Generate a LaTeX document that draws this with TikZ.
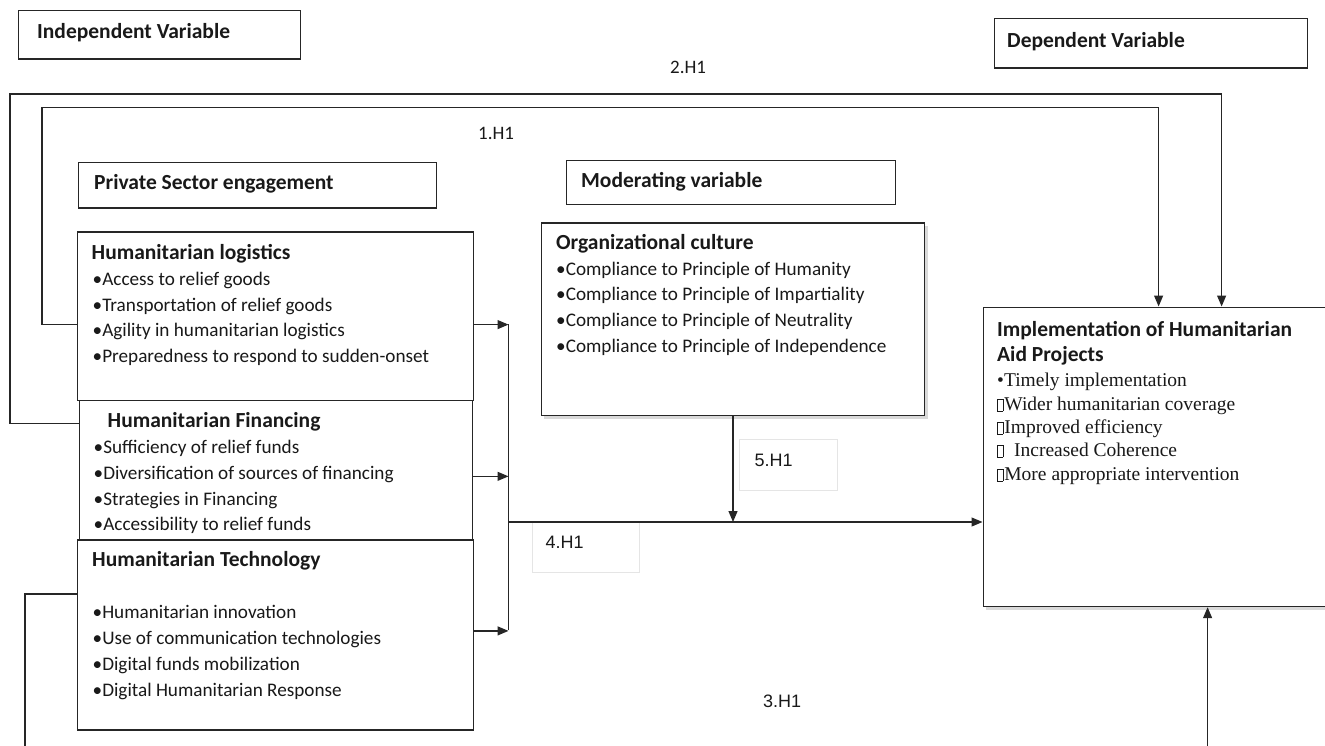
\documentclass[tikz,border=0pt]{standalone}
\usepackage{fontspec}
\setmainfont{Carlito}
\newfontfamily\serifff{Liberation Serif}
\newfontfamily\arialf{Liberation Sans}
\usetikzlibrary{arrows.meta,shadows}
\newcommand\emptyglyph{{\setlength\fboxsep{0pt}\setlength\fboxrule{0.6pt}\fbox{\rule{0pt}{11pt}\hspace{5pt}}\hspace{1pt}}}
\begin{document}
\begin{tikzpicture}[x=1pt,y=-1pt,
  box/.style={draw=black!85, line width=1.2pt, inner sep=0pt, anchor=north west, fill=white},
  ttl/.style={font=\fontsize{21.5}{25}\selectfont\bfseries, inner sep=0pt, anchor=base west, text=black!90},
  itm/.style={font=\fontsize{19.2}{25}\selectfont, inner sep=0pt, anchor=base west, text=black!90},
  sitm/.style={font=\serifff\fontsize{19.5}{24}\selectfont, inner sep=0pt, anchor=base west, text=black!90},
  lbl/.style={font=\arialf\fontsize{18}{20}\selectfont, inner sep=0pt, anchor=base west, text=black!90},
  lblc/.style={font=\fontsize{19}{20}\selectfont, inner sep=0pt, anchor=base west, text=black!90},
  faint/.style={draw=black!10, line width=0.8pt, inner sep=0pt, anchor=north west},
  conn/.style={line width=1.2pt, draw=black!85},
  arr/.style={conn, -{Triangle[length=11pt,width=9pt]}},
  shad/.style={drop shadow={shadow xshift=3pt, shadow yshift=-3pt, fill=black!15, opacity=1}}
]
\useasboundingbox (0,0) rectangle (1325,746);

% boxes
\node[box, minimum width=282pt, minimum height=48.5pt] (indep) at (17.5,10) {};
\node[box, minimum width=313pt, minimum height=49.5pt] (dep) at (994,18) {};
\node[box, minimum width=357.5pt, minimum height=45.5pt] (pse) at (78,162) {};
\node[box, minimum width=329pt, minimum height=44pt] (mod) at (566,160) {};
\node[box, minimum width=396pt, minimum height=168pt] (log) at (76.5,231.5) {};
\node[box, minimum width=393.5pt, minimum height=139.5pt] (fin) at (78.5,400) {};
\node[box, minimum width=396pt, minimum height=190pt] (tech) at (76.5,539.3) {};
\node[box, shad, minimum width=383.5pt, minimum height=192.5pt] (org) at (540.5,222.5) {};
\node[box, shad, minimum width=351pt, minimum height=299.5pt] (impl) at (982.5,306.5) {};
\node[faint, minimum width=98pt, minimum height=51pt] (l5box) at (738.5,439) {};
\node[faint, minimum width=107pt, minimum height=50pt] (l4box) at (531.5,522) {};

% titles
\node[ttl] (indepT) at (37,39) {Independent Variable};
\node[ttl] (depT) at (1007,48) {Dependent Variable};
\node[ttl] (pseT) at (94,190) {Private Sector engagement};
\node[ttl] (modT) at (581,188) {Moderating variable};
\node[ttl] (logT) at (91.5,259) {Humanitarian logistics};
\node[ttl] (finT) at (107.5,427) {Humanitarian Financing};
\node[ttl] (techT) at (92,566.5) {Humanitarian Technology};
\node[ttl] (orgT) at (556,250) {Organizational culture};
\node[ttl] (implT1) at (997,336.5) {Implementation of Humanitarian};
\node[ttl] (implT2) at (997,361.5) {Aid Projects};

% items
\node[itm] (log1) at (92.5,285) {•Access to relief goods};
\node[itm] (log2) at (92.5,311) {•Transportation of relief goods};
\node[itm] (log3) at (92.5,336.8) {•Agility in humanitarian logistics};
\node[itm] (log4) at (92.5,362.7) {•Preparedness to respond to sudden-onset};

\node[itm] (fin1) at (93.5,453.3) {•Sufficiency of relief funds};
\node[itm] (fin2) at (93.5,479) {•Diversification of sources of financing};
\node[itm] (fin3) at (93.5,505) {•Strategies in Financing};
\node[itm] (fin4) at (93.5,530.7) {•Accessibility to relief funds};

\node[itm] (tech1) at (92.5,618) {•Humanitarian innovation};
\node[itm] (tech2) at (92.5,644) {•Use of communication technologies};
\node[itm] (tech3) at (92.5,670) {•Digital funds mobilization};
\node[itm] (tech4) at (92.5,696) {•Digital Humanitarian Response};

\node[itm] (org1) at (556,275) {•Compliance to Principle of Humanity};
\node[itm] (org2) at (556,300.7) {•Compliance to Principle of Impartiality};
\node[itm] (org3) at (556,326.7) {•Compliance to Principle of Neutrality};
\node[itm] (org4) at (556,352.7) {•Compliance to Principle of Independence};

\node[sitm] (impl1) at (997,386.7) {•Timely implementation};
\node[sitm] (impl2) at (997,410.7) {\emptyglyph Wider humanitarian coverage};
\node[sitm] (impl3) at (997,433.5) {\emptyglyph Improved efficiency};
\node[sitm] (impl4) at (997,456.7) {\emptyglyph\ \ Increased Coherence};
\node[sitm] (impl5) at (997,480.7) {\emptyglyph More appropriate intervention};

% hypothesis labels
\node[lblc] (h2) at (670,73.5) {2.H1};
\node[lblc] (h1) at (478,139.5) {1.H1};
\node[lbl] (h5) at (754.5,466.7) {5.H1};
\node[lbl] (h4) at (545.5,548.3) {4.H1};
\node[lbl] (h3) at (763,707.3) {3.H1};

% junction coordinates
\coordinate (jt) at (508.5,324);
\coordinate (jb) at (508.5,630);
\coordinate (jm) at (508.5,522);
\coordinate (p1) at (42,107.5);
\coordinate (p2) at (10,94);
\coordinate (p3) at (25,780);

% connectors
\draw[conn] (jt) -- (jb);
\draw[arr] ([yshift=-8.5pt]log.east) -- ([yshift=-8.5pt]log.east -| jt);
\draw[arr] ([yshift=-6pt]fin.east) -- ([yshift=-6pt]fin.east -| jt);
\draw[arr] ([yshift=4pt]tech.east) -- ([yshift=4pt]tech.east -| jt);
\draw[arr] (jm) -- (impl.west |- jm);
\draw[arr] (org.south -| 733,0) -- (jm -| 733,0);
\draw[arr] ([yshift=-8pt]log.west) -| (p1) -| (impl.north);
\draw[arr] ([yshift=47pt]fin.west) -| (p2) -| ([xshift=63pt]impl.north);
\draw[arr] ([yshift=41pt]tech.west) -| (p3) -| ([xshift=49pt]impl.south);
\end{tikzpicture}
\end{document}
